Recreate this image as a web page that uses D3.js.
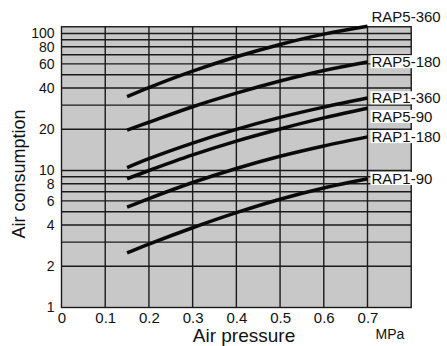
<!DOCTYPE html>
<html><head><meta charset="utf-8">
<script src="https://cdn.jsdelivr.net/npm/d3@7"></script>
<style>
html,body{margin:0;padding:0;background:#fff;}
svg text{font-family:"Liberation Sans",Arial,Helvetica,sans-serif;fill:#111;}
</style></head>
<body>
<svg id="chart" width="447" height="346"></svg>
<script>
// ---- data ----
const pressure = [0.15, 0.2, 0.3, 0.4, 0.5, 0.6, 0.7];
const seriesNames = ["RAP5-360", "RAP5-180", "RAP1-360", "RAP5-90", "RAP1-180", "RAP1-90"];
const rap5_360 = [34.6, 40.3, 53.1, 67.6, 83.2, 98.9, 113];
const rap5_180 = [19.7, 22.5, 29.2, 36.7, 45, 53.7, 62];
const rap1_360 = [10.5, 12.2, 15.85, 19.95, 24.4, 29, 33.8];
const rap5_90  = [8.7, 10, 13, 16.4, 20.1, 24.2, 28.5];
const rap1_180 = [5.4, 6.24, 8.17, 10.35, 12.7, 15.1, 17.6];
const rap1_90  = [2.5, 2.9, 3.82, 4.92, 6.17, 7.45, 8.7];
const seriesValues = [rap5_360, rap5_180, rap1_360, rap5_90, rap1_180, rap1_90];
const xTicks = [0, 0.1, 0.2, 0.3, 0.4, 0.5, 0.6, 0.7];
const xGrid = [0.1, 0.2, 0.3, 0.4, 0.5, 0.6, 0.7];
const yTicks = [1, 2, 4, 6, 8, 10, 20, 40, 60, 80, 100];
const yGrid = [2,3,4,5,6,7,8,9,10,20,30,40,50,60,70,80,90,100];
const xDomain = [0, 0.8];
const yDomain = [1, 112];

// ---- scales ----
const svg = d3.select("#chart");
const x = d3.scaleLinear().domain([0, 0.7]).range([61.5, 367.5]);
const y = d3.scaleLog().domain([1, 100]).range([307.5, 33.5]);

const pLeft = x(xDomain[0]), pRight = x(xDomain[1]);
const pTop = y(yDomain[1]), pBottom = y(yDomain[0]);

// panel
svg.append("rect").attr("x", pLeft).attr("y", pTop)
  .attr("width", pRight - pLeft).attr("height", pBottom - pTop)
  .attr("fill", "#c8c8c8");

// grid
svg.append("g").selectAll("line").data(yGrid).join("line")
  .attr("x1", pLeft).attr("x2", pRight)
  .attr("y1", d => y(d)).attr("y2", d => y(d))
  .attr("stroke", "#1a1a1a").attr("stroke-width", 1.4);
svg.append("g").selectAll("line").data(xGrid).join("line")
  .attr("x1", d => x(d)).attr("x2", d => x(d))
  .attr("y1", pTop).attr("y2", pBottom)
  .attr("stroke", "#1a1a1a").attr("stroke-width", 1.4);

// frame
svg.append("rect").attr("x", pLeft).attr("y", pTop)
  .attr("width", pRight - pLeft).attr("height", pBottom - pTop)
  .attr("fill", "none").attr("stroke", "#1a1a1a").attr("stroke-width", 1.4);

// axes
const yAxis = d3.axisLeft(y).tickValues(yTicks).tickFormat(d3.format("d")).tickSize(0).tickPadding(7);
const gy = svg.append("g").attr("transform", `translate(${pLeft},0)`).call(yAxis);
gy.select(".domain").remove();
gy.selectAll("text").style("font-size", "14px").attr("fill", "#111");

const xAxis = d3.axisBottom(x).tickValues(xTicks).tickFormat(d => d === 0 ? "0" : d3.format(".1f")(d)).tickSize(0).tickPadding(5);
const gx = svg.append("g").attr("transform", `translate(0,${pBottom})`).call(xAxis);
gx.select(".domain").remove();
gx.selectAll("text").style("font-size", "15px").attr("fill", "#111");

// curves
const line = d3.line().x((d, i) => x(pressure[i])).y(d => y(d)).curve(d3.curveCatmullRom);
svg.append("g").selectAll("path").data(seriesValues).join("path")
  .attr("d", d => line(d))
  .attr("fill", "none").attr("stroke", "#0a0a0a").attr("stroke-width", 3.5)
  .attr("stroke-linecap", "butt");

// series labels with white backgrounds
const labelDy = [-9, 0, 0, 8.5, 0, 0];
const lg = svg.append("g");
seriesNames.forEach((name, i) => {
  const vals = seriesValues[i];
  const ly = y(vals[vals.length - 1]) + labelDy[i];
  const t = lg.append("text").attr("x", x(0.7) + 4).attr("y", ly)
    .attr("dy", "0.35em").style("font-size", "15px").text(name);
  const bb = t.node().getBBox();
  lg.insert("rect", "text").attr("x", bb.x - 1).attr("y", bb.y + 2)
    .attr("width", bb.width + 2).attr("height", bb.height - 4).attr("fill", "#fff");
});

// axis titles
svg.append("text").attr("x", 244).attr("y", 342).attr("text-anchor", "middle")
  .style("font-size", "19px").text("Air pressure");
svg.append("text").attr("x", 390).attr("y", 338.5).attr("text-anchor", "middle")
  .style("font-size", "14px").text("MPa");
svg.append("text").attr("transform", "translate(19,174) rotate(-90)")
  .attr("text-anchor", "middle").attr("dy", "0.35em").style("font-size", "18px").text("Air consumption");
</script>
</body></html>
